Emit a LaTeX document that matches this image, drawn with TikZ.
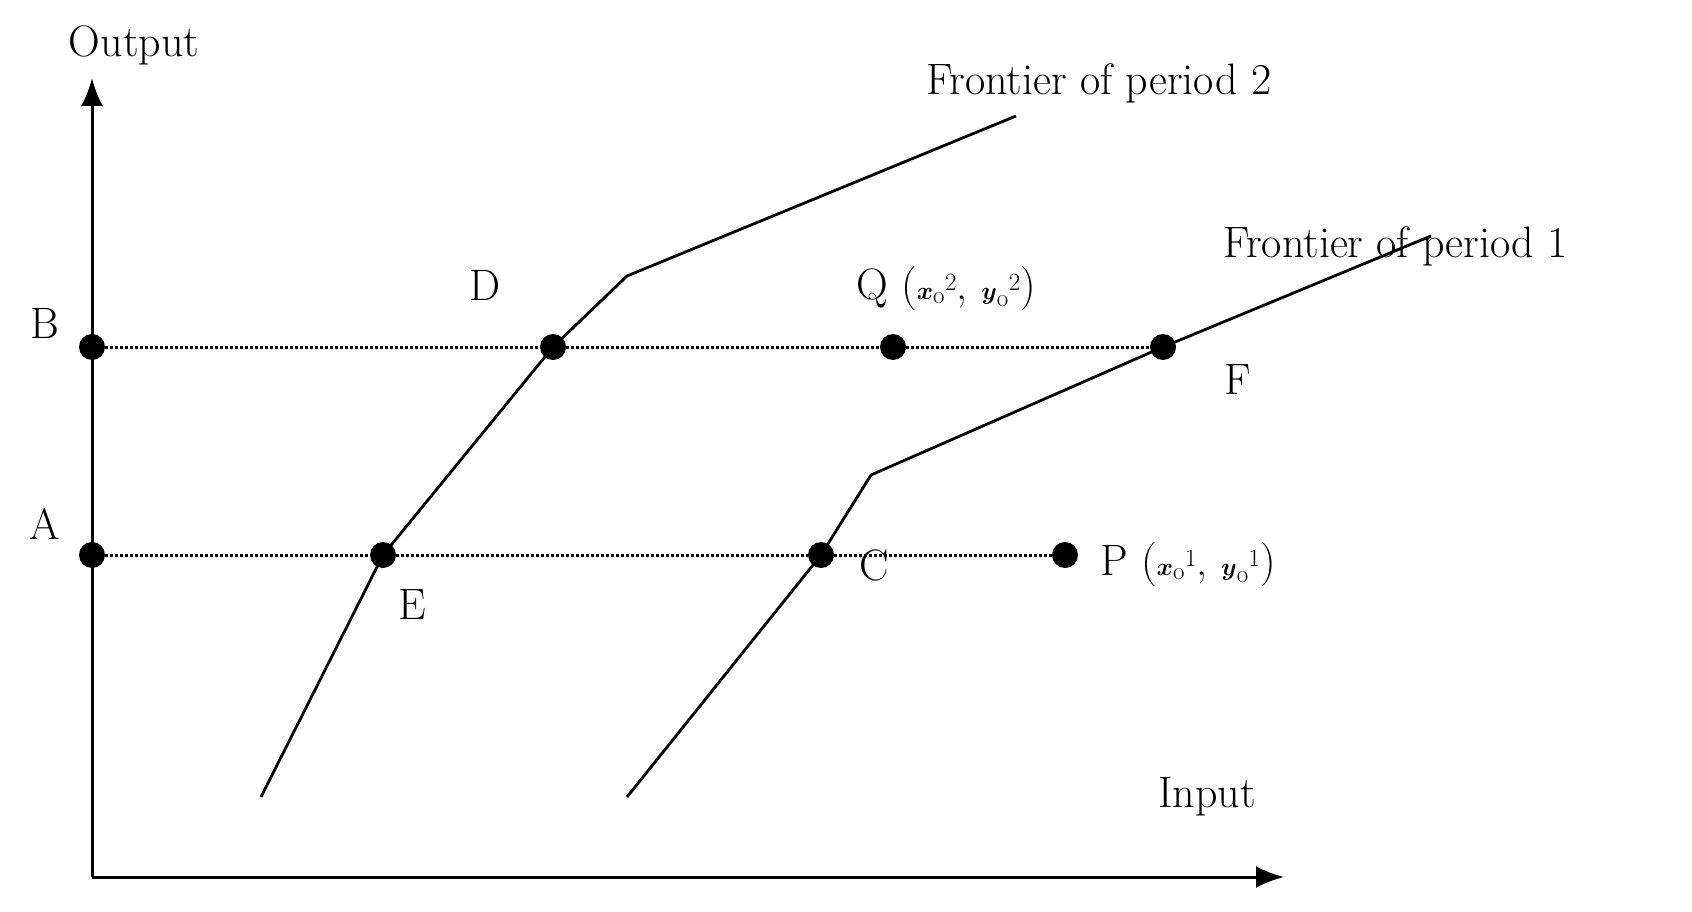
\documentclass[tikz,border=0pt]{standalone}
\usepackage{amsmath}
\usetikzlibrary{arrows.meta}
\begin{document}
\begin{tikzpicture}[x=1pt,y=-1pt,
  dot/.style={circle,fill=black,inner sep=0pt,minimum size=26pt},
  lbl/.style={font=\fontsize{44}{50}\selectfont,inner sep=0pt},
  frontier/.style={line width=2.8pt},
  guide/.style={line width=3pt,dotted}]
\useasboundingbox (0,0) rectangle (1692,912);
\coordinate (O) at (92,877);
\coordinate (Ytop) at (92,78);
\coordinate (Xend) at (1284,877);
\draw[line width=3pt,-{Latex[length=28pt,width=22pt]}] (O) -- (Ytop);
\draw[line width=3pt,-{Latex[length=28pt,width=22pt]}] (O) -- (Xend);
\node[dot] (B) at (92,347) {};
\node[dot] (A) at (92,555) {};
\node[dot] (D) at (553,347) {};
\node[dot] (Q) at (893,347) {};
\node[dot] (F) at (1163,347) {};
\node[dot] (E) at (383,555) {};
\node[dot] (C) at (821,555) {};
\node[dot] (P) at (1065,555) {};
\draw[guide] (B) -- (D) -- (Q) -- (F);
\draw[guide] (A) -- (E) -- (C) -- (P);
\coordinate (f2a) at (261,797);
\coordinate (f2k) at (627,276);
\coordinate (f2b) at (1016,116);
\coordinate (f1a) at (627,797);
\coordinate (f1k) at (871,475);
\coordinate (f1b) at (1431,236);
\draw[frontier] (f2a) -- (E.center) -- (D.center) -- (f2k) -- (f2b);
\draw[frontier] (f1a) -- (C.center) -- (f1k) -- (F.center) -- (f1b);
\node[lbl] (tOut) at (134,45) {Output};
\node[lbl] (tIn) at (1207,797) {Input};
\node[lbl] (tF2) at (1099,83) {Frontier of period 2};
\node[lbl,anchor=west] (tF1) at (1223,246) {Frontier of period 1};
\node[lbl] (tB) at (45,323) {B};
\node[lbl] (tA) at (45,524) {A};
\node[lbl] (tD) at (485,285) {D};
\node[lbl] (tE) at (412,605) {E};
\node[lbl] (tC) at (874,565) {C};
\node[lbl] (tFF) at (1238,380) {F};
\node[lbl,anchor=west] (tQ) at (856,289) {Q ($\boldsymbol{x}_{\mathrm{o}}{}^{2}$, $\boldsymbol{y}_{\mathrm{o}}{}^{2}$)};
\node[lbl,anchor=west] (tP) at (1100,565) {P ($\boldsymbol{x}_{\mathrm{o}}{}^{1}$, $\boldsymbol{y}_{\mathrm{o}}{}^{1}$)};
\end{tikzpicture}
\end{document}
